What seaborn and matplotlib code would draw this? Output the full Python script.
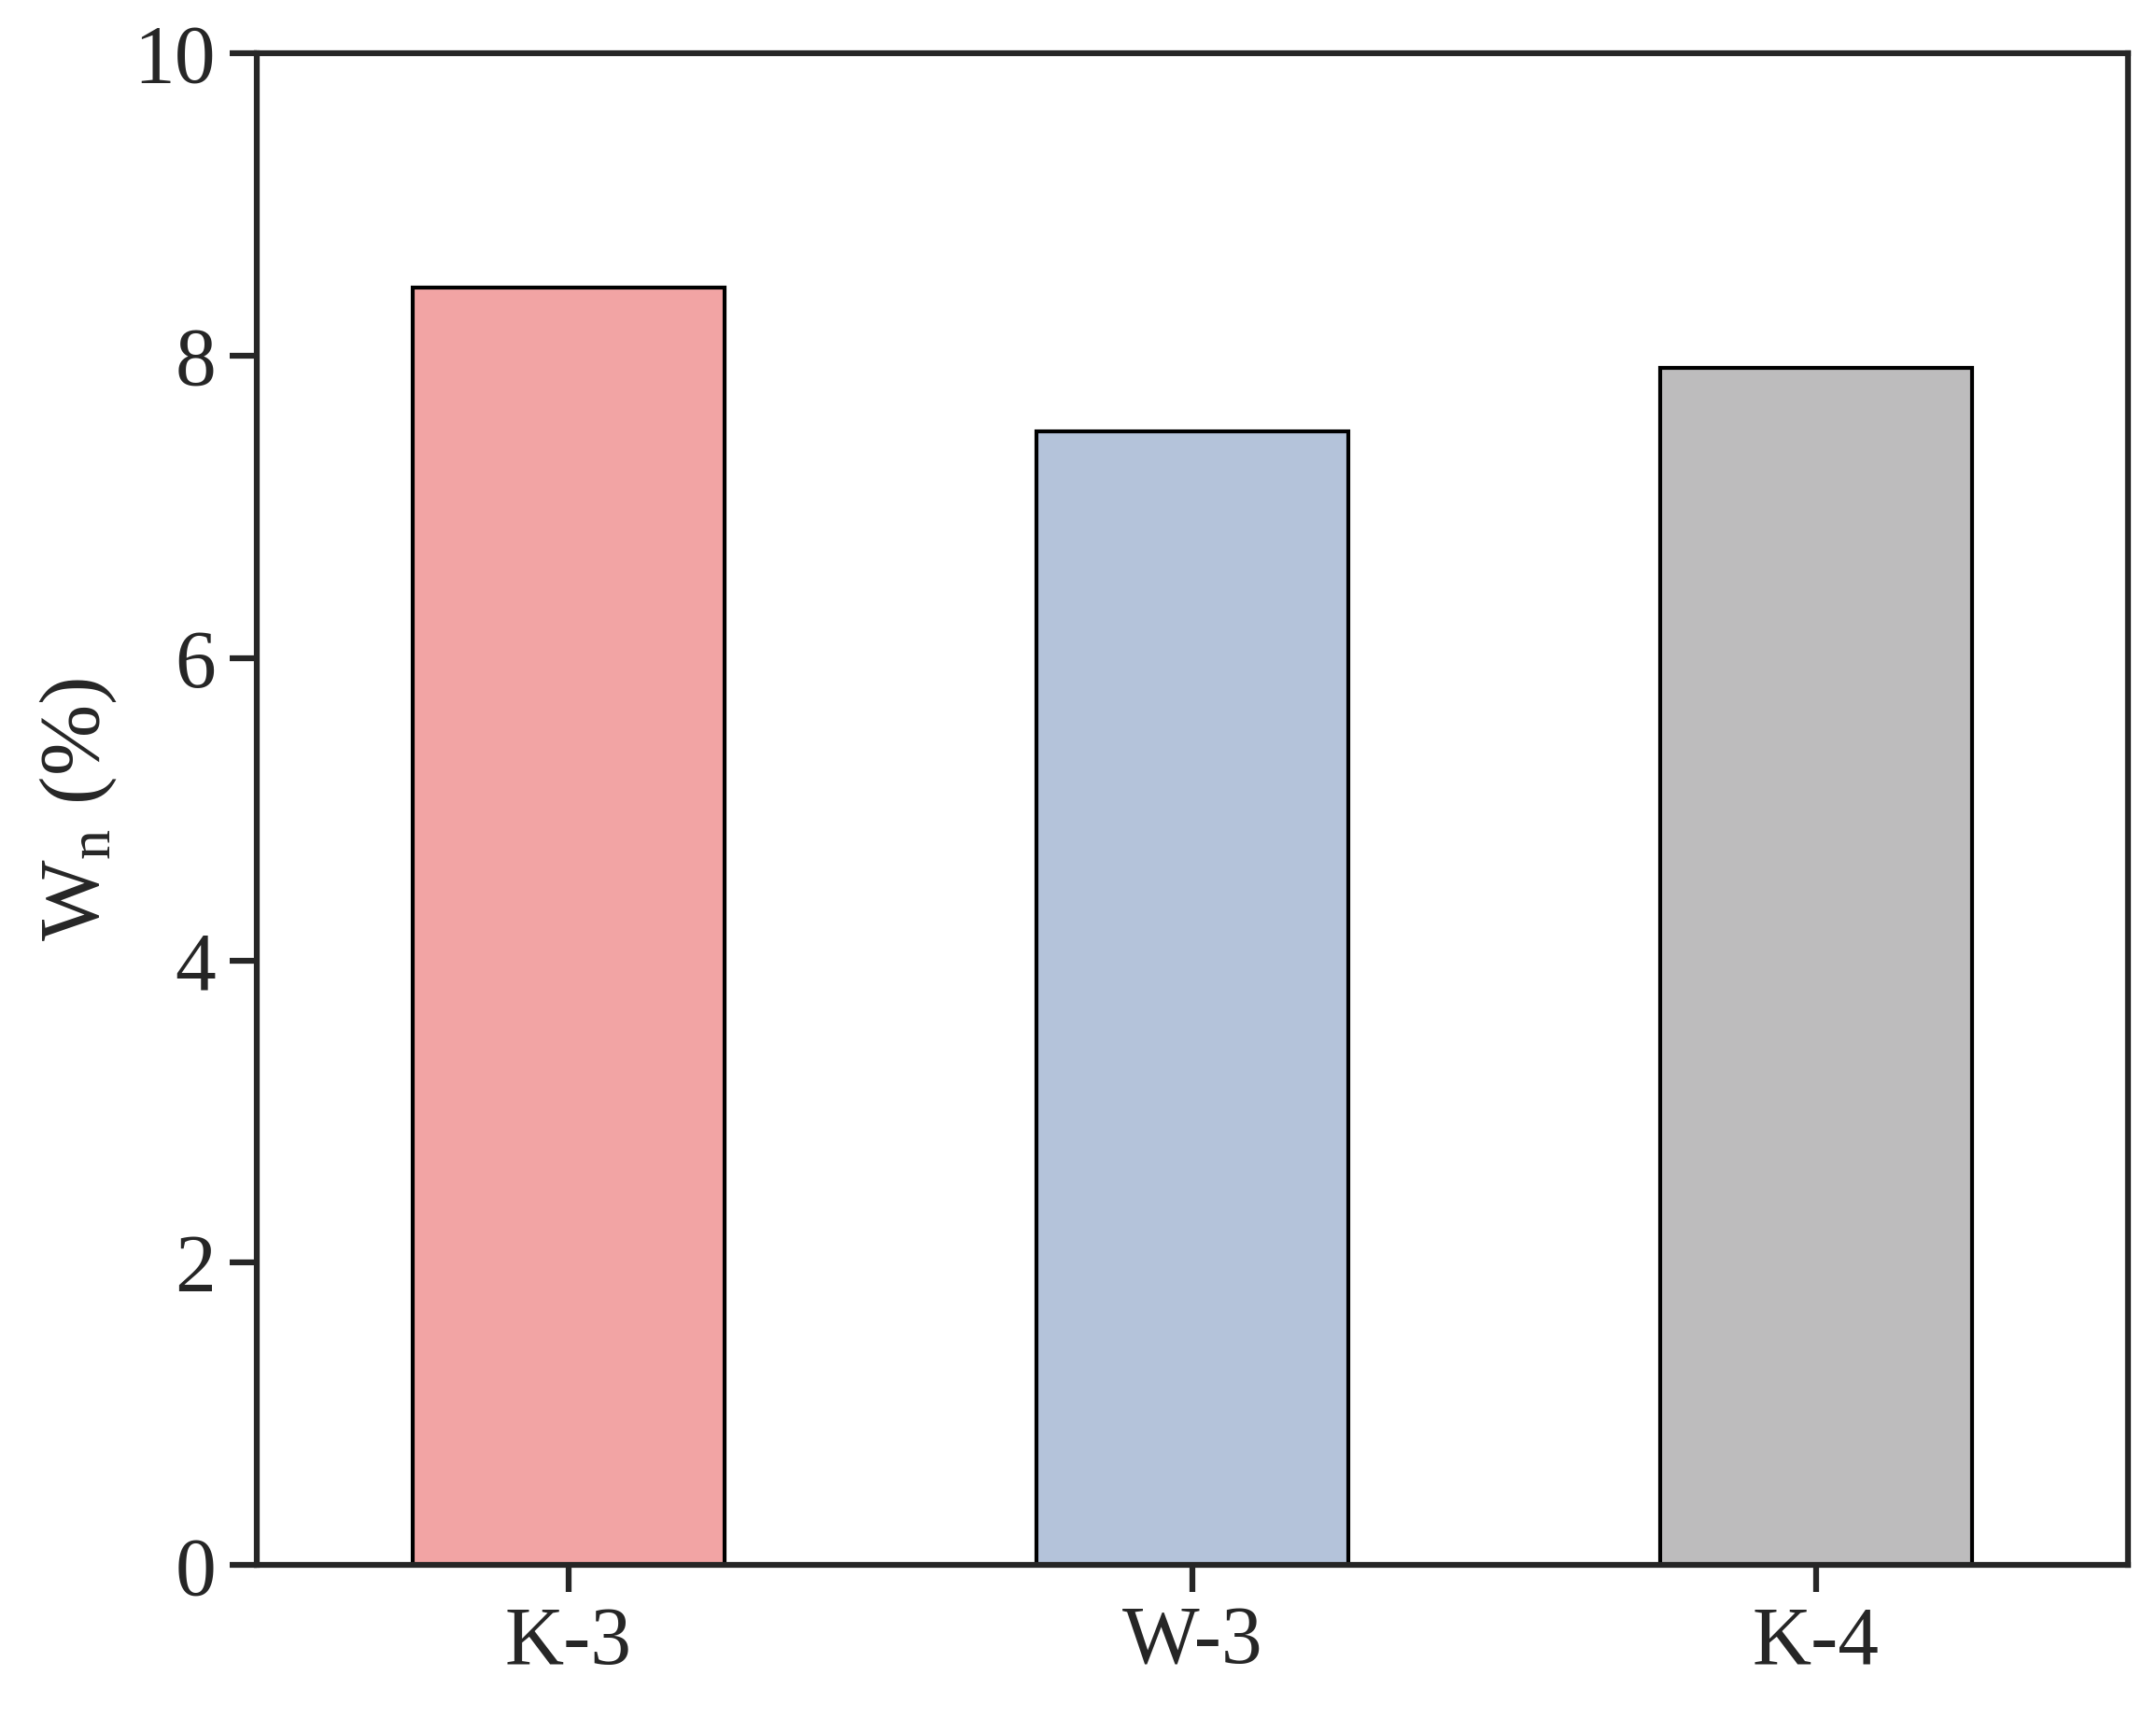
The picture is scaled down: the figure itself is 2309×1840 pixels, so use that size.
import matplotlib
matplotlib.use("Agg")
import matplotlib.pyplot as plt
import pandas as pd
import seaborn as sns

samples = ["K-3", "W-3", "K-4"]
wn_values = [8.45, 7.50, 7.92]
bar_colors = ["#FF9797", "#AEC2E0", "#BDBCBD"]

sns.set_style("ticks")
plt.rcParams["font.family"] = ["Liberation Serif", "DejaVu Serif"]
plt.rcParams["mathtext.fontset"] = "stix"

df = pd.DataFrame({"Sample": samples, "Wn": wn_values})

fig = plt.figure(figsize=(2309 / 300, 1840 / 300), dpi=300)
ax = fig.add_axes([0.119, 0.089, 0.868, 0.88])
sns.barplot(data=df, x="Sample", y="Wn", hue="Sample", palette=bar_colors,
            width=0.5, edgecolor="black", linewidth=1.0, legend=False, ax=ax)

ax.set_ylim(0, 10)
ax.set_xlim(-0.5, 2.5)
ax.set_yticks([0, 2, 4, 6, 8, 10])
ax.set_xlabel("")
ax.set_ylabel(r"W$_\mathregular{n}$ (%)", fontsize=22)
ax.tick_params(axis="both", labelsize=21, width=1.5, length=7, direction="out")
for s in ax.spines.values():
    s.set_linewidth(1.5)
    s.set_visible(True)

fig.savefig("out.png", dpi=300)
